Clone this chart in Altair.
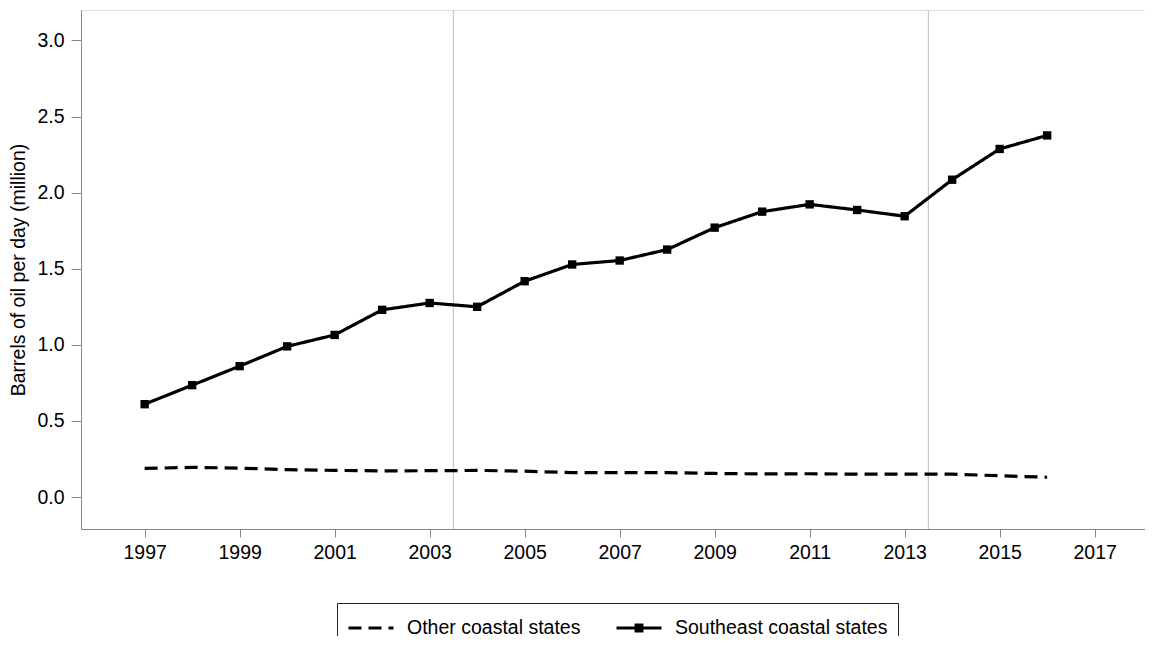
import altair as alt
import pandas as pd

years = list(range(1997, 2017))
southeast = [0.61, 0.735, 0.86, 0.99, 1.065, 1.23, 1.275, 1.25, 1.418, 1.528,
             1.554, 1.626, 1.77, 1.875, 1.923, 1.886, 1.845, 2.085, 2.287, 2.376]
other = [0.188, 0.195, 0.19, 0.18, 0.175, 0.172, 0.173, 0.175, 0.17, 0.16,
         0.16, 0.16, 0.155, 0.152, 0.153, 0.15, 0.15, 0.15, 0.14, 0.13]
series_names = ["Other coastal states", "Southeast coastal states"]
period_breaks = [2003.5, 2013.5]
x_ticks = list(range(1997, 2018, 2))
y_ticks = [0.0, 0.5, 1.0, 1.5, 2.0, 2.5, 3.0]

rows = []
for y, v in zip(years, other):
    rows.append({"year": y, "value": v, "series": series_names[0]})
for y, v in zip(years, southeast):
    rows.append({"year": y, "value": v, "series": series_names[1]})
df = pd.DataFrame(rows)
breaks_df = pd.DataFrame({"year": period_breaks})

FONT = "Liberation Sans, Arial, sans-serif"

x_scale = alt.Scale(domain=[1995.66, 2018.06], nice=False, zero=False)
y_scale = alt.Scale(domain=[-0.21, 3.2], nice=False, zero=False)

x_enc = alt.X("year:Q", scale=x_scale,
              axis=alt.Axis(values=x_ticks, format="d", title=None, grid=False,
                            tickSize=8, labelPadding=6, labelFontSize=19.5,
                            labelFlush=False, labelOverlap=False))
y_enc = alt.Y("value:Q", scale=y_scale,
              axis=alt.Axis(values=y_ticks, format=".1f",
                            title="Barrels of oil per day (million)",
                            grid=False, tickSize=10, labelPadding=7,
                            labelFontSize=19.5, titleFontSize=19.5,
                            titleFontWeight="normal", titlePadding=8))

square_path = "M-1,0L1,0M-0.13,-0.13L0.13,-0.13L0.13,0.13L-0.13,0.13Z"
shape_expr = ("datum.value === 'Southeast coastal states' ? '" + square_path
              + "' : 'M-1,0L1,0'")
legend = alt.Legend(
    title=None, orient="none", legendX=256, legendY=593,
    direction="horizontal", strokeColor="#222222", padding=10,
    labelFontSize=19.5, labelFont=FONT, labelColor="black", labelLimit=500,
    symbolSize=2025, symbolStrokeWidth=3, symbolStrokeColor="black",
    symbolFillColor="black", clipHeight=30,
    labelOffset=12, columnPadding=34,
    symbolType=alt.ExprRef(expr=shape_expr),
)

rules = alt.Chart(breaks_df).mark_rule(color="#c8c8c8", strokeWidth=1.2).encode(
    x=alt.X("year:Q", scale=x_scale)
)

lines = alt.Chart(df).mark_line(color="black", strokeWidth=3.2, strokeCap="butt").encode(
    x=x_enc,
    y=y_enc,
    strokeDash=alt.StrokeDash("series:N",
                              scale=alt.Scale(domain=series_names, range=[[13, 7], [1, 0]]),
                              legend=legend),
)

points = alt.Chart(df).transform_filter(
    alt.datum.series == series_names[1]
).mark_point(shape="square", filled=True, size=70, color="black", opacity=1).encode(
    x=alt.X("year:Q", scale=x_scale),
    y=alt.Y("value:Q", scale=y_scale),
)

chart = alt.layer(rules, lines, points).properties(
    width=1064, height=519,
    autosize=alt.AutoSizeParams(type="none"),
    padding={"left": 73, "top": 2, "right": 0, "bottom": 107},
).configure_view(stroke="transparent", strokeWidth=0, strokeOpacity=0).configure_axis(
    domainColor="black", tickColor="black", labelColor="black", titleColor="black",
    labelFont=FONT, titleFont=FONT, domainWidth=1.3, tickWidth=1.3,
).configure(background="white")

chart.save("out.html", embed_options={"renderer": "svg", "actions": False})
